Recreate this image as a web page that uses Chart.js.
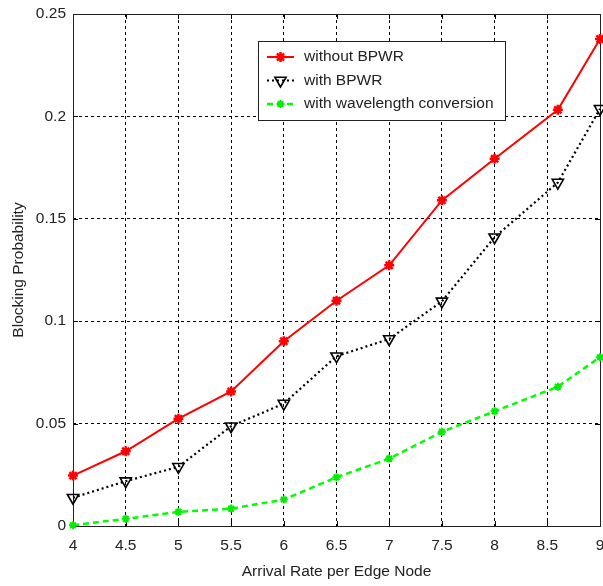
<!DOCTYPE html>
<html>
<head>
<meta charset="utf-8">
<script src="https://cdn.jsdelivr.net/npm/chart.js@4/dist/chart.umd.min.js"></script>
<style>
html,body{margin:0;padding:0;background:#fff;}
#wrap{width:603px;height:586px;position:relative;}
</style>
</head>
<body>
<div id="wrap"><canvas id="c" width="603" height="586"></canvas></div>
<script>
// ---- data ----
const xValues = [4, 4.5, 5, 5.5, 6, 6.5, 7, 7.5, 8, 8.6, 9];
const withoutBPWR = [0.0246, 0.0365, 0.0524, 0.0657, 0.0902, 0.1100, 0.1273, 0.1590, 0.1793, 0.2032, 0.2378];
const withBPWR = [0.0138, 0.0219, 0.0289, 0.0487, 0.0598, 0.0829, 0.0913, 0.1097, 0.1410, 0.1677, 0.2037];
const withConversion = [0.0004, 0.0035, 0.0069, 0.0085, 0.0129, 0.0238, 0.0329, 0.0460, 0.0560, 0.0680, 0.0824];
const seriesLabels = ["without BPWR", "with BPWR", "with wavelength conversion"];
const xTickValues = [4, 4.5, 5, 5.5, 6, 6.5, 7, 7.5, 8, 8.5, 9];
const yTickValues = [0, 0.05, 0.1, 0.15, 0.2, 0.25];
const xTitle = "Arrival Rate per Edge Node";
const yTitle = "Blocking Probability";

const FONT = "'Liberation Sans', Arial, Helvetica, sans-serif";
const TXT = '#222';

function pts(ys){ return xValues.map((x,i)=>({x:x, y:ys[i]})); }

const framePlugin = {
  id: 'frame',
  beforeDatasetsDraw(chart){
    const {ctx, chartArea:a, scales:{x, y}} = chart;
    ctx.save();
    ctx.strokeStyle = '#000';
    ctx.lineWidth = 1;
    ctx.setLineDash([]);
    ctx.beginPath();
    const L = 5;
    xTickValues.forEach(v=>{
      const px = Math.round(x.getPixelForValue(v)) + 0.5;
      ctx.moveTo(px, a.bottom); ctx.lineTo(px, a.bottom - L);
      ctx.moveTo(px, a.top); ctx.lineTo(px, a.top + L);
    });
    yTickValues.forEach(v=>{
      const py = Math.round(y.getPixelForValue(v)) + 0.5;
      ctx.moveTo(a.left, py); ctx.lineTo(a.left + L, py);
      ctx.moveTo(a.right, py); ctx.lineTo(a.right - L, py);
    });
    ctx.stroke();
    ctx.strokeStyle = '#222';
    ctx.strokeRect(Math.round(a.left)+0.5, Math.round(a.top)+0.5, Math.round(a.right-a.left), Math.round(a.bottom-a.top));
    ctx.restore();
  },
  afterDraw(chart){
    const ctx = chart.ctx;
    const bx = 258, by = 41, bw = 247, bh = 79;
    ctx.save();
    ctx.fillStyle = '#fff';
    ctx.fillRect(bx, by, bw, bh);
    ctx.strokeStyle = '#222';
    ctx.lineWidth = 1;
    ctx.setLineDash([]);
    ctx.strokeRect(bx+0.5, by+0.5, bw, bh);
    const rows = [57, 80.5, 104];
    chart.data.datasets.forEach((ds, i)=>{
      const yy = rows[i];
      ctx.save();
      ctx.strokeStyle = ds.borderColor;
      ctx.lineWidth = ds.borderWidth;
      ctx.setLineDash(ds.borderDash || []);
      ctx.beginPath();
      ctx.moveTo(267, yy); ctx.lineTo(294, yy);
      ctx.stroke();
      ctx.setLineDash([]);
      ctx.strokeStyle = ds.pointBorderColor;
      ctx.fillStyle = ds.pointBackgroundColor;
      ctx.lineWidth = ds.pointBorderWidth;
      Chart.helpers.drawPoint(ctx, {pointStyle: ds.pointStyle, rotation: ds.pointRotation || 0, radius: ds.pointRadius, borderWidth: ds.pointBorderWidth}, 280.5, yy);
      ctx.restore();
      ctx.fillStyle = TXT;
      ctx.font = "15.5px " + FONT;
      ctx.textBaseline = 'middle';
      ctx.textAlign = 'left';
      ctx.fillText(ds.label, 304, yy);
    });
    ctx.restore();
  }
};

new Chart(document.getElementById('c'), {
  type: 'line',
  data: {
    datasets: [
      {
        label: seriesLabels[0], data: pts(withoutBPWR),
        borderColor: '#ff0000', borderWidth: 2, borderDash: [],
        pointStyle: 'star', pointRadius: 5, pointBorderWidth: 2.5,
        pointBorderColor: '#ff0000', pointBackgroundColor: '#ff0000',
        clip: false, tension: 0
      },
      {
        label: seriesLabels[1], data: pts(withBPWR),
        borderColor: '#000000', borderWidth: 2.2, borderDash: [2, 3],
        pointStyle: 'triangle', pointRotation: 180, pointRadius: 6.5, pointBorderWidth: 1.6,
        pointBorderColor: '#000000', pointBackgroundColor: 'rgba(0,0,0,0)',
        clip: false, tension: 0
      },
      {
        label: seriesLabels[2], data: pts(withConversion),
        borderColor: '#00ff00', borderWidth: 2.5, borderDash: [6, 4],
        pointStyle: 'star', pointRadius: 4, pointBorderWidth: 2,
        pointBorderColor: '#00ee00', pointBackgroundColor: '#00ee00',
        clip: false, tension: 0
      }
    ]
  },
  options: {
    responsive: false,
    animation: false,
    devicePixelRatio: 1,
    layout: { autoPadding: false, padding: { top: 14, right: 3, left: 0, bottom: 0 } },
    plugins: { legend: { display: false }, tooltip: { enabled: false } },
    scales: {
      x: {
        type: 'linear', min: 4, max: 9,
        afterBuildTicks(s){ s.ticks = xTickValues.map(v=>({value:v})); },
        afterFit(s){ s.height = 60; s.paddingLeft = 0; s.paddingRight = 0; },
        ticks: {
          padding: 10, color: TXT, font: { family: FONT, size: 15.5 },
          maxRotation: 0, autoSkip: false,
          callback: v => String(+Number(v).toFixed(2))
        },
        grid: { color: '#000', lineWidth: 1, drawTicks: false, tickLength: 0 },
        border: { display: false, dash: [3, 3] },
        title: { display: true, text: xTitle, color: TXT, font: { family: FONT, size: 15.5 }, padding: { top: 0, bottom: 5 } }
      },
      y: {
        type: 'linear', min: 0, max: 0.25,
        afterBuildTicks(s){ s.ticks = yTickValues.map(v=>({value:v})); },
        afterFit(s){ s.width = 73; s.paddingTop = 0; s.paddingBottom = 0; },
        ticks: {
          padding: 7, color: TXT, font: { family: FONT, size: 15.5 },
          autoSkip: false,
          callback: v => String(+Number(v).toFixed(2))
        },
        grid: { color: '#000', lineWidth: 1, drawTicks: false, tickLength: 0 },
        border: { display: false, dash: [3, 3] },
        title: { display: true, text: yTitle, color: TXT, font: { family: FONT, size: 15.5 }, padding: { top: 9, bottom: 0 } }
      }
    }
  },
  plugins: [framePlugin]
});
</script>
</body>
</html>
